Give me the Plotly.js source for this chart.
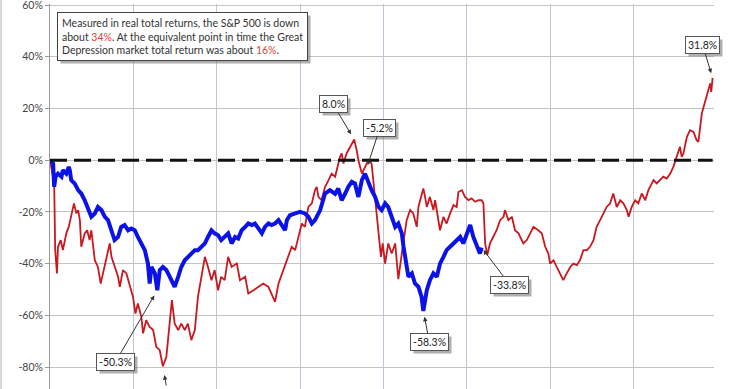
<!DOCTYPE html>
<html>
<head>
<meta charset="utf-8">
<script src="https://cdn.plot.ly/plotly-3.0.1.min.js"></script>
<style>
html,body{margin:0;padding:0;background:#fff;}
#chart{width:740px;height:389px;}
</style>
</head>
<body>
<div id="chart"></div>
<script>
// Great Depression (1929-) real total return, months from peak
const redMonths = [0,1.2,1.5,2.0,2.3,3.1,3.7,4.7,5.4,6.1,6.9,7.6,8.1,8.6,9.0,10.0,10.7,11.4,11.9,12.9,13.8,14.6,15.3,16.2,17.2,17.7,18.6,19.6,20.1,21.0,22.0,23.0,23.9,24.6,25.3,26.3,26.8,27.7,28.7,29.7,30.6,31.6,32.5,33.5,34.5,35.1,35.9,36.9,37.8,38.8,39.7,40.7,41.7,42.6,43.6,44.6,45.5,46.5,47.4,48.4,49.3,50.3,
51.3,52.3,53.8,54.7,56.2,57.1,58.6,60.0,61.4,62.9,63.8,64.8,65.8,67.2,68.6,69.6,70.6,71.5,72.5,73.4,74.4,75.4,76.3,76.8,77.3,78.2,79.2,80.2,81.1,82.1,83.5,84.0,84.5,85.4,86.4,87.6,88.3,88.8,89.8,90.7,91.7,92.6,93.1,94.1,94.8,95.3,95.8,96.5,97.4,98.4,99.4,100.3,101.3,101.8,102.7,103.7,104.6,105.6,106.1,106.6,107.5,108.0,108.5,109.4,110.4,110.9,111.8,112.3,113.3,114.2,115.2,116.2,117.1,117.6,118.6,119.5,120.5,121.4,122.4,123.4,124.3,124.8,125.3,125.9,126.7,127.7,128.6,129.6,130.6,131.0,132.0,133.0,133.9,134.9,136.3,137.3,138.2,139.2,140.6,141.6,142.6,143.5,144.0,145.0,145.9,146.9,147.8,148.8,149.8,150.7,151.7,152.6,153.6,154.6,155.5,156.5,157.4,158.4,159.4,160.3,161.3,162.2,163.2,164.2,165.1,166.1,166.6,167.5,168.5,169.4,170.4,171.4,172.3,173.8,174.7,175.7,176.6,177.6,178.6,179.5,180.5,181.4,181.9,182.4,183.4,184.3,185.3,186.2,186.7,187.2,187.7,188.2,189.1,189.6,190.1,190.4,190.8];
const redValues = [0,-9,-34.8,-43.8,-33.5,-30.9,-34.8,-28.3,-25.8,-21.9,-16.7,-20.6,-19.3,-23.2,-33.5,-28.3,-27.1,-30.9,-27.1,-38.7,-41.3,-47.7,-43.8,-38.7,-32.2,-37.4,-41.3,-45.1,-49.0,-42.5,-43.8,-49.0,-52.9,-59.3,-55.4,-60.6,-67.0,-61.9,-64.5,-65.7,-72.2,-73.5,-79.7,-76.1,-63.2,-54.1,-63.2,-65.7,-63.2,-65.7,-63.2,-69.6,-65.7,-52.9,-45.1,-37.4,-41.3,-46.4,-42.5,-50.3,-45.1,-46.4,
-37.4,-41.3,-40,-46.4,-45.1,-51.6,-50.3,-49.0,-47.7,-49.0,-51.6,-54.8,-47.7,-42.5,-37.4,-33.5,-34.8,-29.7,-24.5,-25.8,-18.1,-16.7,-11.6,-10.3,-14.2,-15.5,-10.3,-7.7,-5.2,-6.4,1.3,2.6,-1.3,2.6,5.2,8.0,3.9,0,-5.2,-2.6,0,-1.3,-7.7,-23.2,-29.7,-37.4,-32.2,-40,-32.2,-36.1,-32.2,-46,-36.1,-30.9,-23.2,-19.3,-20.6,-25.8,-18.1,-15.5,-10.9,-14.2,-18.1,-14.2,-19.3,-15.5,-23.2,-27.1,-21.9,-24.5,-20.6,-17.4,-18.1,-12.3,-11.6,-14.2,-15.5,-14.8,-16.1,-15.5,-15.5,-16.7,-32.2,-36.7,-32.2,-29.7,-27.1,-23.2,-21.9,-19.3,-23.2,-21.9,-27.1,-28.3,-32.2,-30.9,-28.3,-25.8,-27.1,-28.3,-33.5,-36.1,-40,-38.7,-41.3,-43.8,-46.4,-43.8,-41.3,-40,-40.6,-38.7,-34.8,-34.8,-33.5,-30.9,-25.8,-23.2,-20.6,-18.1,-16.7,-12.9,-18.1,-15.5,-16.7,-19.3,-21.9,-18.1,-15.5,-16.7,-12.9,-15.5,-11.6,-7.7,-9.0,-7.7,-6.4,-7.1,-5.2,-2.6,1.3,5.2,1.3,2.6,9.0,11.6,10.9,7.7,7.1,12.9,18.1,20.6,24.5,27.1,29.7,26.4,31.8];

// S&P 500 (2000-) real total return, months from peak
const blueMonths = [0,0.9,1.2,1.6,2.3,3.3,3.7,4.7,5.4,5.7,6.1,7.1,8.1,9.0,10.0,10.9,11.9,12.9,13.8,14.8,15.8,16.7,17.7,18.6,19.6,20.5,21.5,22.5,23.4,24.4,25.3,26.3,27.3,28.2,28.7,29.2,30.2,30.9,31.6,32.5,33.5,34.5,35.4,35.9,36.9,37.8,38.8,39.7,40.7,41.7,42.6,43.6,44.6,45.5,46.5,47.4,48.4,49.3,50.3,51.3,52.3,53.3,54.2,55.2,56.2,57.1,58.1,59.0,60.0,61.0,61.9,62.9,63.8,64.8,65.8,66.7,67.7,68.2,69.1,70.6,72.0,73.4,74.4,75.4,76.3,77.8,79.2,80.6,82.1,83.0,84.0,85.0,85.9,86.9,87.8,88.8,89.8,90.7,91.7,92.6,93.6,94.6,95.5,96.5,97.4,98.4,99.4,100.3,101.3,101.8,102.7,103.2,104.2,105.1,106.1,107.0,107.5,108.5,109.4,110.4,111.4,112.3,113.3,114.2,115.2,116.2,117.1,118.1,119.0,120.0,121.0,121.9,122.9,123.8,124.3];
const blueValues = [0,-1.3,-10.3,-6.4,-5.2,-6.4,-3.9,-5.2,-2.6,-3.9,-7.7,-9.0,-11.6,-12.9,-15.5,-18.1,-21.9,-20.6,-18.1,-19.3,-21.9,-23.2,-27.1,-30.9,-29.7,-25.8,-25.1,-27.1,-26.4,-27.1,-29.7,-32.2,-34.8,-40,-47.7,-41.3,-43.8,-50.3,-42.5,-41.3,-42.5,-45.1,-47.7,-49.0,-45.1,-41.3,-38.7,-37.4,-36.1,-34.8,-34.8,-33.5,-32.2,-29.7,-27.1,-28.3,-29.0,-30.9,-29.7,-28.3,-32.2,-29.7,-30.3,-27.1,-25.8,-24.5,-25.1,-24.5,-26.4,-28.3,-25.8,-24.5,-25.1,-24.5,-23.2,-25.1,-27.1,-23.2,-21.3,-20.6,-20.0,-20.6,-21.9,-24.5,-23.2,-19.3,-12.9,-11.6,-13.0,-11.0,-15.5,-12.9,-10.3,-8.4,-9.0,-14.2,-7.7,-5.2,-9.0,-11.6,-14.2,-18.1,-19.3,-16.7,-18.1,-21.9,-25.8,-24.5,-28.3,-33.5,-40,-45.1,-43.8,-47.7,-49.0,-52.9,-58.3,-50.3,-46.4,-43.8,-45.1,-40,-37.4,-34.8,-33.5,-32.2,-30.9,-29.7,-32.2,-28.3,-25.1,-29.7,-33.5,-36.1,-33.8];

const yTickVals = [60,40,20,0,-20,-40,-60,-80];
const yTickText = ['60%','40%','20%','0%','-20%','-40%','-60%','-80%'];
const xGridVals = [0,24,48,72,96,120,144,168];
const zeroLineMonths = [0,190.8];
const zeroLineValues = [0,0];

const boxLines = [
  'Measured in real total returns, the S&amp;P 500 is down',
  'about <span style="color:#e8403c">34%</span>. At the equivalent point in time the Great',
  'Depression market total return was about <span style="color:#e8403c">16%</span>.'
];

// callouts: series, month of the marked point, label
const calloutSeries = ['red','red','blue','blue','blue','blue'];
const calloutMonths = [190.8,87.6,90.7,30.9,107.5,124.3];
const calloutLabels = ['31.8%','8.0%','-5.2%','-50.3%','-58.3%','-33.8%'];
// red trough whose label lies below the visible area (arrow only)
const troughSeries = 'red', troughMonth = 32.5;

function valueAt(series, m){
  const xs = series==='red'?redMonths:blueMonths;
  const ys = series==='red'?redValues:blueValues;
  return ys[xs.indexOf(m)];
}
const offsets = [
  {ax:-10, ay:-33, st:5},
  {ax:-21, ay:-35, st:6},
  {ax:15, ay:-46, st:9},
  {ax:-42, ay:72, st:6},
  {ax:6, ay:31, st:6},
  {ax:28, ay:37, st:3}
];
const FONT = 'Lato, "Liberation Sans", sans-serif';

const annotations = [];
for (let i=0;i<calloutLabels.length;i++){
  const s = calloutSeries[i], m = calloutMonths[i];
  const o = offsets[i];
  annotations.push({
    x:m, y:valueAt(s,m), xref:'x', yref:'y', text:calloutLabels[i],
    showarrow:true, ax:o.ax, ay:o.ay, standoff:o.st,
    arrowhead:2, arrowsize:0.9, arrowwidth:1, arrowcolor:'#333',
    bgcolor:'#ffffff', bordercolor:'#555', borderwidth:1, borderpad:2,
    font:{family:FONT, size:10.5, color:'#222'}
  });
}
annotations.push({
  x:troughMonth, y:valueAt(troughSeries,troughMonth), xref:'x', yref:'y', text:' ',
  showarrow:true, ax:4, ay:28, standoff:9,
  arrowhead:2, arrowsize:0.9, arrowwidth:1, arrowcolor:'#333',
  bgcolor:'rgba(0,0,0,0)', borderwidth:0, font:{family:FONT, size:4, color:'#fff'}
});
annotations.push({
  xref:'paper', yref:'paper', x:(57-50)/664, y:(389-12)/385,
  xanchor:'left', yanchor:'top', align:'left', showarrow:false,
  text: boxLines.join('<br>'),
  bgcolor:'#ffffff', bordercolor:'#444', borderwidth:1, borderpad:4,
  font:{family:FONT, size:10.5, color:'#333'}
});

const traces = [
  {x:redMonths, y:redValues, type:'scatter', mode:'lines', line:{color:'#c9181f', width:1.8}, hoverinfo:'skip'},
  {x:blueMonths, y:blueValues, type:'scatter', mode:'lines', line:{color:'#0a12e8', width:4}, hoverinfo:'skip'},
  {x:zeroLineMonths, y:zeroLineValues, type:'scatter', mode:'lines', line:{color:'#111', width:3, dash:'17px,7px'}, hoverinfo:'skip'}
];

const baseShapes = [
  {type:'line', xref:'paper', yref:'paper', x0:-49/664, x1:-49/664, y0:0, y1:1.02, line:{color:'#b0b0b0', width:1}}
];

const layout = {
  width:740, height:389,
  margin:{l:50, r:26, t:4, b:0, pad:0},
  paper_bgcolor:'#ffffff', plot_bgcolor:'#ffffff',
  showlegend:false,
  xaxis:{range:[0,191.2], tickvals:xGridVals, showticklabels:false, ticks:'',
         showgrid:true, gridcolor:'#c4c4d8', gridwidth:1, zeroline:false, showline:false, fixedrange:true},
  yaxis:{range:[-88.5,60.4], tickvals:yTickVals, ticktext:yTickText, showgrid:true, gridcolor:'#c4c4c4', gridwidth:1,
         zeroline:false, showline:true, linecolor:'#999', linewidth:1, ticks:'outside', ticklen:4, tickcolor:'#999',
         ticklabeloverflow:'allow',
         tickfont:{family:FONT, size:10.5, color:'#444'}, fixedrange:true},
  annotations: annotations,
  shapes: baseShapes
};

const gd = document.getElementById('chart');
Plotly.newPlot(gd, traces, layout, {staticPlot:true, displayModeBar:false}).then(function(){
  // drop shadows behind the boxed labels
  const fl = gd._fullLayout, W = fl.width, H = fl.height;
  const ml = fl.margin.l, mt = fl.margin.t, pw = fl._size.w, ph = fl._size.h;
  const root = gd.getBoundingClientRect();
  const shadows = [];
  gd.querySelectorAll('.annotation').forEach(function(a){
    const bg = a.querySelector('rect.bg');
    if (!bg) return;
    const sw = parseFloat(bg.style.strokeWidth || bg.getAttribute('stroke-width') || 0);
    if (!(sw > 0)) return;
    const r = bg.getBoundingClientRect();
    if (r.width < 2) return;
    const d = 3;
    const x0 = r.left - root.left + d, x1 = r.right - root.left + d;
    const y0 = r.top - root.top + d, y1 = r.bottom - root.top + d;
    shadows.push({type:'rect', xref:'paper', yref:'paper', layer:'above',
      x0:(x0-ml)/pw, x1:(x1-ml)/pw, y0:1-(y1-mt)/ph, y1:1-(y0-mt)/ph,
      fillcolor:'rgba(110,110,110,0.55)', line:{width:0}});
  });
  return Plotly.relayout(gd, {shapes: baseShapes.concat(shadows)});
});
</script>
</body>
</html>
